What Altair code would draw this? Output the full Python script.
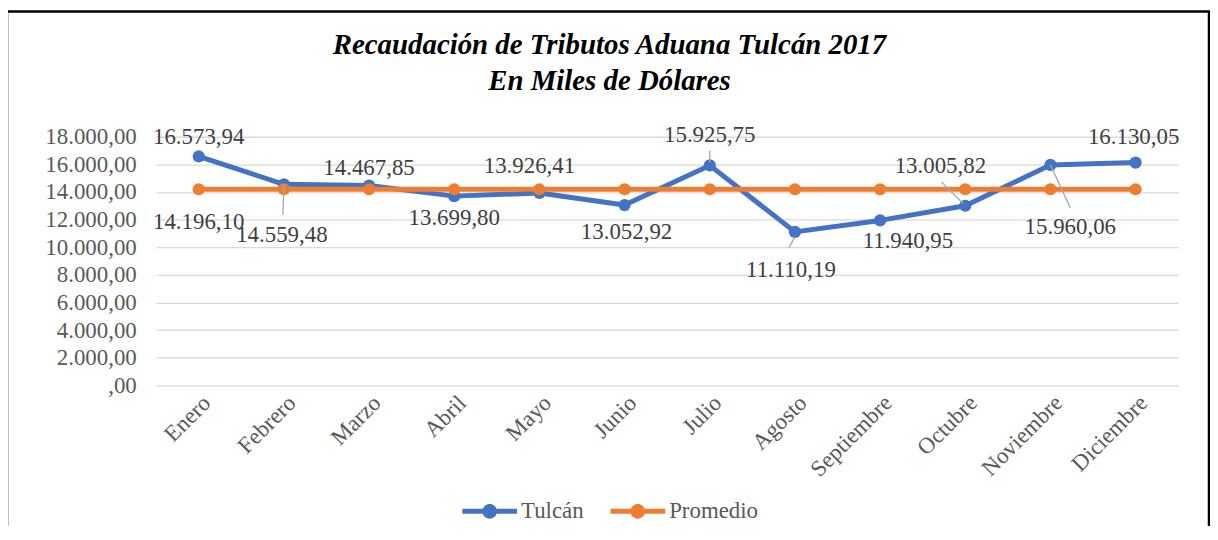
import altair as alt
import pandas as pd

# ---------------- data ----------------
months = ["Enero", "Febrero", "Marzo", "Abril", "Mayo", "Junio", "Julio",
          "Agosto", "Septiembre", "Octubre", "Noviembre", "Diciembre"]
tulcan = [16573.94, 14559.48, 14467.85, 13699.80, 13926.41, 13052.92,
          15925.75, 11110.19, 11940.95, 13005.82, 15960.06, 16130.05]
promedio = [14196.10, 14196.10, 14196.10, 14196.10, 14196.10, 14196.10,
            14196.10, 14196.10, 14196.10, 14196.10, 14196.10, 14196.10]
series_names = ["Tulcán", "Promedio"]
y_ticks = [0, 2000, 4000, 6000, 8000, 10000, 12000, 14000, 16000, 18000]
title_lines = ["Recaudación de Tributos Aduana Tulcán 2017", "En Miles de Dólares"]

# ---------------- style ----------------
BLUE = "#4472C4"
ORANGE = "#ED7D31"
GRID = "#D9D9D9"
LABEL = "#595959"
DLABEL = "#404040"
LEADER = "#A6A6A6"
FONT = "Times New Roman, Liberation Serif, DejaVu Serif, serif"
FS = 23

# label offsets in pixels (dx, dy) relative to the data point
LABEL_OFFSETS = {
    ("Tulcán", "Enero"): (0, -20),
    ("Promedio", "Enero"): (0, 33),
    ("Tulcán", "Febrero"): (-2, 51),
    ("Tulcán", "Marzo"): (0, -18),
    ("Tulcán", "Abril"): (0, 22),
    ("Tulcán", "Mayo"): (-10, -27),
    ("Tulcán", "Junio"): (2, 27),
    ("Tulcán", "Julio"): (0, -31),
    ("Tulcán", "Agosto"): (-4, 38),
    ("Tulcán", "Septiembre"): (28, 21),
    ("Tulcán", "Octubre"): (-25, -40),
    ("Tulcán", "Noviembre"): (20, 62),
    ("Tulcán", "Diciembre"): (-2, -26),
}
# leader lines: (series, month, start offset, end offset)
LEADERS = [
    ("Tulcán", "Febrero", (0, 0), (-1, 31)),
    ("Tulcán", "Julio", (0, -15), (0, -3)),
    ("Tulcán", "Agosto", (0, 5), (-6, 16)),
    ("Tulcán", "Octubre", (-24, -24), (-2, -2)),
    ("Tulcán", "Noviembre", (0, 0), (20, 43)),
]

rows = []
for s, vals in zip(series_names, [tulcan, promedio]):
    for m, v in zip(months, vals):
        rows.append({"series": s, "month": m, "value": v})
df = pd.DataFrame(rows)

FMT = ("{v} == 0 ? ',00' : replace(replace(replace(format({v}, ',.2f'), ',', '#'), '.', ','), '#', '.')")

x_enc = alt.X("month:N", sort=months,
              scale=alt.Scale(type="point", padding=0.5),
              axis=alt.Axis(title=None, labelAngle=-45, labelFont=FONT,
                            labelFontSize=FS, labelColor=LABEL, domain=False,
                            ticks=False, grid=False, labelPadding=6))
y_enc = alt.Y("value:Q", scale=alt.Scale(domain=[0, 18000], nice=False),
              axis=alt.Axis(title=None, values=y_ticks, labelFont=FONT,
                            labelFontSize=FS, labelColor=LABEL, domain=False,
                            ticks=False, gridColor=GRID, gridWidth=1.3,
                            labelPadding=20,
                            labelExpr=FMT.format(v="datum.value")))

color_enc = alt.Color("series:N",
                      scale=alt.Scale(domain=series_names, range=[BLUE, ORANGE]),
                      legend=alt.Legend(
                          title=None, orient="none", direction="horizontal",
                          legendX=308, legendY=349,
                          labelFont=FONT, labelFontSize=FS, labelColor=LABEL,
                          symbolType="M-1,-0.09L1,-0.09L1,0.09L-1,0.09Z M0.27,0A0.27,0.27 0 1,1 -0.27,0A0.27,0.27 0 1,1 0.27,0Z",
                          symbolSize=3025, symbolStrokeWidth=0, symbolOpacity=1,
                          columnPadding=26, labelOffset=4))

base = alt.Chart(df)

def line_layer(name, col):
    return base.transform_filter(alt.datum.series == name).mark_line(
        color=col, strokeWidth=5, strokeCap="round", strokeJoin="round"
    ).encode(x=x_enc, y=y_enc)

def point_layer(name):
    return base.transform_filter(alt.datum.series == name).mark_point(
        filled=True, size=150, opacity=1, strokeWidth=0
    ).encode(x=x_enc, y=y_enc, color=color_enc)

labels = []
for (s, m), (dx, dy) in LABEL_OFFSETS.items():
    labels.append(
        base.transform_filter((alt.datum.series == s) & (alt.datum.month == m))
        .transform_calculate(txt=FMT.format(v="datum.value"))
        .mark_text(font=FONT, fontSize=FS, color=DLABEL, baseline="middle",
                   align="center", dx=dx, dy=dy)
        .encode(x=x_enc, y=y_enc, text="txt:N")
    )

leaders = []
for s, m, (x1, y1), (x2, y2) in LEADERS:
    leaders.append(
        base.transform_filter((alt.datum.series == s) & (alt.datum.month == m))
        .mark_rule(color=LEADER, strokeWidth=1.3, xOffset=x1, yOffset=y1,
                   x2Offset=x2, y2Offset=y2)
        .encode(x=x_enc, y=y_enc, x2=alt.X2("month:N"), y2=alt.Y2("value:Q"))
    )

frame = alt.Chart(pd.DataFrame({"k": [0]})).mark_rect(
    fillOpacity=0, stroke="black", strokeWidth=2.5
).encode(x=alt.value(-150), x2=alt.value(1059), y=alt.value(-126),
         y2=alt.value(430))

chart = alt.layer(
    line_layer("Tulcán", BLUE), point_layer("Tulcán"),
    line_layer("Promedio", ORANGE), point_layer("Promedio"),
    *labels, *leaders, frame
).properties(
    width=1028, height=250,
    autosize=alt.AutoSizeParams(type="none"),
    padding={"left": 149, "top": 128, "right": 32, "bottom": 140},
    title=alt.TitleParams(title_lines, font=FONT, fontSize=29,
                          fontStyle="italic", fontWeight="bold", color="black",
                          anchor="middle", dx=-58, lineHeight=36, offset=-86),
).configure_view(stroke=None)

chart.save("out.html", embed_options={"renderer": "svg", "actions": False})
